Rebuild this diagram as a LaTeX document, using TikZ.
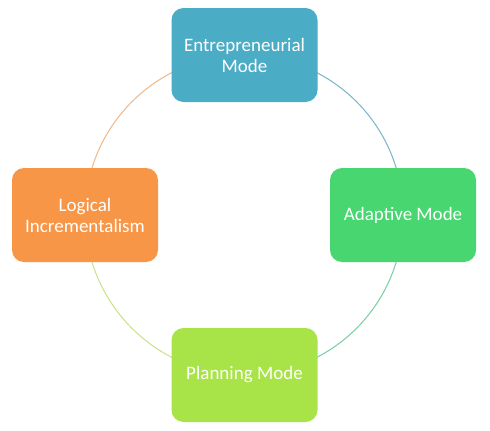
\documentclass[tikz,border=0pt]{standalone}
\usepackage{fontspec}
\setmainfont{Carlito}
\usetikzlibrary{backgrounds}
\definecolor{entblue}{RGB}{75,172,198}
\definecolor{adagreen}{RGB}{72,214,112}
\definecolor{plalime}{RGB}{168,228,72}
\definecolor{logorange}{RGB}{247,150,70}
\definecolor{arcblue}{RGB}{120,180,204}
\definecolor{arcgreen}{RGB}{120,206,160}
\definecolor{arclime}{RGB}{200,226,140}
\definecolor{arcorange}{RGB}{240,184,136}

\begin{document}
\begin{tikzpicture}[x=1pt,y=-1pt,
		mode/.style={rounded corners=12pt,minimum width=146pt,minimum height=94pt,
			text=white,align=center,font=\fontsize{19}{21}\selectfont,inner sep=0pt},
		ring/.style={line width=1pt,bend left=45}]
		\useasboundingbox (0,0) rectangle (490,431);
		\node (ent) at (244.5,55)[mode,fill=entblue]{Entrepreneurial\\Mode} ;
		\node (ada) at (403,215)[mode,fill=adagreen]{Adaptive Mode} ;
		\node (pla) at (244.5,375)[mode,fill=plalime]{Planning Mode} ;
		\node (log) at (85,215)[mode,fill=logorange]{Logical\\Incrementalism} ;
		\begin{scope}[on background layer]
		\fill[white] (0,0) rectangle (490,431);
		\draw[ring,arcblue] (ent.center) to (ada.center) ;
		\draw[ring,arcgreen] (ada.center) to (pla.center) ;
		\draw[ring,arclime] (pla.center) to (log.center) ;
		\draw[ring,arcorange] (log.center) to (ent.center) ;
		\end{scope}
		\end{tikzpicture}
\end{document}
